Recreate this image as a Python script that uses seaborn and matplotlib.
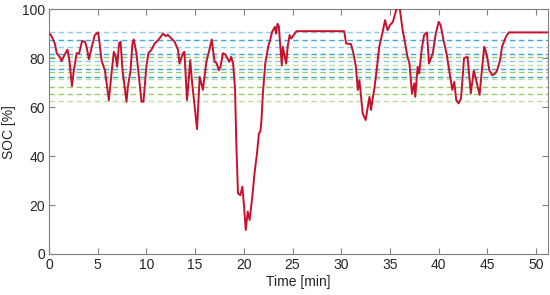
import matplotlib
matplotlib.use("Agg")
import matplotlib.pyplot as plt
import seaborn as sns
import pandas as pd

time_min = [0, 0.2, 0.6, 0.8, 1.1, 1.3, 1.5, 1.9, 2.1, 2.36, 2.56, 2.84, 3.1, 3.4, 3.7, 3.9,
            4.1, 4.4, 4.7, 5.05, 5.2, 5.4, 5.74, 6.15, 6.4, 6.66, 6.86, 7.0, 7.2, 7.35, 7.55,
            7.8, 7.96, 8.1, 8.37, 8.57, 8.7, 8.98, 9.2, 9.5, 9.7, 10.0, 10.2, 10.5, 10.86,
            11.2, 11.7, 12.0, 12.2, 12.57, 12.9, 13.25, 13.4, 13.76, 13.9, 14.17, 14.37,
            14.5, 14.7, 14.96, 15.2, 15.47, 15.8, 16.16, 16.5, 16.7, 17.0, 17.2, 17.45,
            17.6, 17.86, 18.1, 18.5, 18.7, 18.9, 19.1, 19.23, 19.4, 19.64, 19.85, 20.0,
            20.2, 20.4, 20.6, 20.87, 21.1, 21.35, 21.55, 21.7, 21.8, 21.96, 22.2, 22.5,
            22.7, 22.9, 23.2, 23.3, 23.46, 23.6, 23.7, 23.9, 24.0, 24.2, 24.35, 24.5, 24.7,
            24.87, 25.4, 30.3, 30.5, 31.0, 31.25, 31.5, 31.7, 31.86, 32.0, 32.2, 32.5, 32.9,
            33.06, 33.2, 33.4, 33.6, 33.9, 34.25, 34.5, 34.76, 35.0, 35.3, 35.45, 35.7,
            36.0, 36.3, 36.5, 36.8, 37.0, 37.26, 37.5, 37.6, 37.84, 38.0, 38.25, 38.5,
            38.8, 39.0, 39.4, 39.7, 40.0, 40.2, 40.5, 40.8, 41.1, 41.4, 41.6, 41.8, 42.04,
            42.3, 42.6, 42.96, 43.3, 43.6, 43.8, 44.2, 44.4, 44.67, 44.8, 45.0, 45.2, 45.5,
            45.8, 46.0, 46.3, 46.5, 46.9, 47.2, 51.2]
soc = [90, 89.5, 86, 82, 80.5, 78.8, 80.5, 83.5, 79, 68.6, 75, 82, 82, 87, 86.7, 84,
       79.5, 84.6, 89.4, 90.5, 86, 79, 75, 62.8, 73, 82.6, 80.5, 76.5, 86, 86.7, 75,
       67, 62.2, 68.3, 75, 86, 87.6, 82, 73.7, 62.2, 62.2, 76.5, 82, 83.3, 86,
       87.3, 90, 89, 89.5, 88, 86.7, 83.3, 77.8, 82, 82.6, 62.9, 72.4,
       79.2, 69.7, 60, 51, 72.4, 67, 78.5, 84, 87.6, 78.5, 78, 75,
       76.5, 82, 81.5, 78.5, 80.5, 77.8, 67.6, 45, 24.8, 24, 27.5, 20.7,
       9.8, 17.3, 13.9, 23.4, 33, 41, 49.3, 50, 54, 65.6, 77.8, 84.6,
       87.3, 90.7, 92.8, 90, 94, 92.8, 87.3, 77, 84.6, 80.5, 77.8, 84.6, 89.4,
       88, 91, 91, 86, 85.7, 82, 76.5, 67, 71, 65.6, 57.4, 54.7, 64.2,
       58.8, 62.9, 67.6, 74, 84.6, 90.7, 95.5, 91.4, 93.5, 94.8, 96.9, 100.5,
       100.5, 91.4, 87.3, 80.5, 77.8, 65.6, 69.7, 64.2, 76.5, 73.7, 83.3, 89.4,
       90.5, 77.8, 82, 90, 94.8, 93.5, 87.3, 82, 74.4, 67, 70.3, 62.9, 61.5,
       63.6, 80, 80.5, 65.6, 75, 71.7, 65, 73.7, 84.6, 83.3, 80, 75, 73,
       73.7, 75, 79.2, 84.6, 88.7, 90.5, 90.5]

blue_levels = [90.5, 87.5, 84.5, 81.7, 78.7, 75.6, 72.4]
blue_shades = ["#8ccbee", "#3aa8de", "#8ccbee", "#3aa8de", "#8ccbee", "#3aa8de", "#3aa8de"]
green_levels = [80.3, 77.1, 74.4, 71.3, 68.3, 65.3, 62.4]
green_shades = ["#9ccc66", "#bfdf9c", "#9ccc66", "#bfdf9c", "#9ccc66", "#9ccc66", "#bfdf9c"]

x_ticks = [0, 5, 10, 15, 20, 25, 30, 35, 40, 45, 50]
y_ticks = [0, 20, 40, 60, 80, 100]

sns.set_style("white")
plt.rcParams['font.family'] = ['Liberation Sans', 'DejaVu Sans']

fig = plt.figure(figsize=(5.5, 2.95), dpi=100)
ax = fig.add_axes([0.089, 0.139, 0.907, 0.830])

for lvl, c in zip(blue_levels, blue_shades):
    ax.axhline(lvl, color=c, lw=1.0, ls=(0, (4, 2.5)), zorder=1)
for lvl, c in zip(green_levels, green_shades):
    ax.axhline(lvl, color=c, lw=1.0, ls=(0, (4, 2.5)), zorder=1)

df = pd.DataFrame({"Time [min]": time_min, "SOC [%]": soc})
sns.lineplot(data=df, x="Time [min]", y="SOC [%]", ax=ax, color="#c8102e", lw=1.4, zorder=3)

ax.set_xlim(0, 51.2)
ax.set_ylim(0, 100)
ax.set_xticks(x_ticks)
ax.set_yticks(y_ticks)
ax.set_xlabel("Time [min]", fontsize=10, color="#262626", labelpad=2)
ax.set_ylabel("SOC [%]", fontsize=10, color="#262626", labelpad=4)
ax.tick_params(axis='both', direction='in', length=4, width=0.8, colors="#808080",
               labelcolor="#262626", labelsize=10, top=True, right=True,
               left=True, bottom=True, pad=3)
for s in ax.spines.values():
    s.set_visible(True)
    s.set_color("#808080")
    s.set_linewidth(0.8)

fig.savefig("out.png", dpi=100)
